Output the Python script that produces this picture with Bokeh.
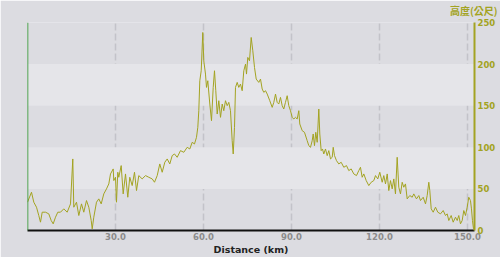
from bokeh.plotting import figure
from bokeh.models import (LinearAxis, FixedTicker, BoxAnnotation, Span, Title, Range1d)
from bokeh.embed import file_html
from bokeh.resources import INLINE

# Distance (km) and elevation (m)
distance_km = [0.0, 1.36, 2.15, 3.07, 3.85, 4.43, 5.01, 6.14, 7.26, 8.08, 8.76, 9.55, 10.33, 11.25,
               12.37, 13.53, 14.66, 15.44, 15.78, 16.70, 17.49, 18.41, 19.19, 20.11, 20.90, 21.72,
               22.06, 22.60, 23.52, 24.31, 25.13, 26.01, 26.93, 27.72, 28.30, 29.22, 29.42, 30.00,
               30.34, 30.78, 31.12, 31.94, 32.62, 33.41, 34.19, 34.87, 35.69, 36.48, 37.16, 37.94,
               39.10, 40.23, 41.35, 42.51, 43.30, 44.22, 45.10, 45.92, 46.81, 47.63, 48.51, 49.33,
               50.11, 51.03, 52.16, 53.28, 54.44, 55.33, 56.15, 56.93, 57.61, 58.06, 58.40, 58.74,
               59.22, 59.76, 60.10, 60.68, 61.02, 61.47, 62.15, 62.73, 63.31, 63.75, 64.19, 64.67,
               65.22, 65.80, 66.38, 66.92, 67.50, 68.08, 68.63, 69.20, 69.78, 70.13, 70.57, 70.91,
               71.49, 72.03, 72.61, 73.19, 73.74, 74.32, 74.66, 75.10, 75.68, 76.26, 76.81, 77.39,
               77.97, 78.85, 79.43, 80.01, 80.56, 81.14, 81.72, 82.60, 83.42, 83.97, 84.55, 85.12,
               85.67, 86.25, 86.83, 87.37, 87.95, 88.53, 89.08, 89.66, 90.24, 90.78, 91.36, 91.94,
               92.49, 92.83, 93.65, 94.43, 95.35, 95.90, 96.48, 97.06, 97.40, 97.84, 98.28, 98.76,
               99.31, 99.65, 100.12, 100.57, 101.01, 101.59, 102.17, 102.72, 103.30, 103.88, 104.22,
               104.66, 105.34, 106.12, 106.94, 107.83, 108.75, 109.53, 110.35, 111.24, 112.16,
               112.94, 113.52, 114.10, 114.65, 115.47, 116.35, 117.17, 118.06, 118.64, 119.42,
               120.10, 120.92, 121.47, 122.05, 122.63, 123.17, 123.75, 124.33, 124.88, 125.45,
               126.03, 126.58, 127.16, 127.74, 128.28, 128.86, 129.44, 130.33, 131.15, 131.69,
               132.61, 133.40, 133.98, 134.90, 135.68, 136.26, 136.81, 137.15, 137.63, 138.31,
               139.09, 139.88, 140.80, 141.72, 142.50, 143.08, 143.63, 144.44, 145.12, 145.91,
               146.49, 147.03, 147.61, 148.19, 148.74, 149.32, 149.90, 150.44, 151.02, 151.36,
               151.70, 152.05]
elevation_m = [34, 46, 34, 28, 18, 10, 22, 22, 20, 12, 8, 16, 22, 22,
               26, 22, 32, 86, 28, 34, 18, 32, 22, 36, 28, 12,
               2, 16, 34, 38, 32, 44, 50, 56, 68, 74, 60, 64,
               34, 70, 64, 78, 44, 68, 40, 64, 54, 70, 48, 66,
               62, 66, 64, 62, 58, 66, 80, 70, 82, 86, 80, 90,
               92, 88, 96, 94, 100, 98, 106, 104, 112, 124, 144, 180,
               192, 238, 204, 188, 172, 180, 152, 132, 172, 192, 168, 140,
               156, 136, 152, 144, 156, 150, 154, 144, 108, 92, 124, 172,
               178, 172, 176, 168, 192, 200, 188, 208, 204, 232, 216, 196,
               182, 178, 182, 170, 166, 168, 164, 156, 148, 154, 164, 154,
               152, 160, 150, 146, 154, 162, 150, 144, 136, 134, 136, 134,
               144, 128, 120, 118, 108, 102, 100, 108, 116, 102, 118, 106,
               146, 116, 96, 98, 92, 98, 90, 96, 86, 88, 100,
               90, 84, 80, 82, 76, 78, 72, 74, 68, 66,
               72, 76, 64, 68, 60, 54, 58, 60, 66, 62,
               70, 58, 66, 56, 68, 48, 60, 50, 62, 44,
               88, 52, 44, 58, 52, 56, 38, 42, 40, 44,
               38, 42, 36, 40, 32, 42, 58, 48, 26, 22,
               28, 22, 20, 24, 18, 20, 12, 18, 10, 16,
               12, 18, 8, 12, 24, 18, 28, 40, 36, 26,
               12, 2]

x_ticks = [30, 60, 90, 120, 150]
x_tick_labels = ["30.0", "60.0", "90.0", "120.0", "150.0"]
y_ticks = [0, 50, 100, 150, 200, 250]
light_bands = [(50, 100), (150, 200)]

X_MAX = 152.39
BG = "#dcdce1"
BAND = "#e5e5e9"
OLIVE = "#a3a322"

p = figure(width=500, height=257, output_backend="svg", toolbar_location=None,
           x_range=Range1d(0, X_MAX), y_range=Range1d(0, 250),
           min_border_left=27, min_border_right=26, min_border_top=22, min_border_bottom=27,
           background_fill_color=BG, border_fill_color=BG, outline_line_color=None)

# spacer between the frame and the unit title
p.add_layout(Title(text=" ", text_font_size="3px", standoff=0), "above")

p.title = Title(text="高度(公尺)", align="right", offset=-23, text_color=OLIVE,
                text_font="Noto Sans CJK TC", text_font_size="10px", text_font_style="bold",
                standoff=0, text_line_height=0.9)

for lo, hi in light_bands:
    p.add_layout(BoxAnnotation(bottom=lo, top=hi, fill_color=BAND, fill_alpha=1.0,
                               line_color=None, level="underlay"))

p.ygrid.visible = False
p.xgrid.ticker = FixedTicker(ticks=x_ticks)
p.xgrid.grid_line_color = "#c3c3c9"
p.xgrid.grid_line_width = 1.5
p.xgrid.grid_line_dash = "7 3"

p.line(distance_km, elevation_m, line_color=OLIVE, line_width=1)

# left green line
p.yaxis.visible = False
p.add_layout(Span(location=0, dimension="height", line_color="#1e8c1e", line_width=1.5))

xa = p.xaxis[0]
xa.ticker = FixedTicker(ticks=x_ticks)
xa.major_label_overrides = {t: l for t, l in zip(x_ticks, x_tick_labels)}
xa.axis_line_color = "#111111"
xa.axis_line_width = 2
xa.major_tick_line_color = None
xa.minor_tick_line_color = None
xa.major_tick_out = 0
xa.major_tick_in = 0
xa.minor_tick_out = 0
xa.minor_tick_in = 0
xa.major_label_standoff = 2
xa.major_label_text_color = "#8c8c8c"
xa.major_label_text_font = "DejaVu Sans"
xa.major_label_text_font_size = "8.5px"
xa.major_label_text_font_style = "bold"
xa.axis_label = "Distance (km)"
xa.axis_label_standoff = 1
xa.axis_label_text_font = "DejaVu Sans"
xa.axis_label_text_font_size = "9.5px"
xa.axis_label_text_font_style = "bold"
xa.axis_label_text_color = "#222222"

ra = LinearAxis(ticker=FixedTicker(ticks=y_ticks))
ra.axis_line_color = OLIVE
ra.axis_line_width = 2
ra.major_tick_line_color = None
ra.minor_tick_line_color = None
ra.major_tick_out = 0
ra.major_tick_in = 0
ra.minor_tick_out = 0
ra.minor_tick_in = 0
ra.major_label_standoff = 3
ra.major_label_text_color = OLIVE
ra.major_label_text_font = "DejaVu Sans"
ra.major_label_text_font_size = "8.5px"
ra.major_label_text_font_style = "bold"
p.add_layout(ra, "right")

open("out.html", "w").write(file_html(p, INLINE))
